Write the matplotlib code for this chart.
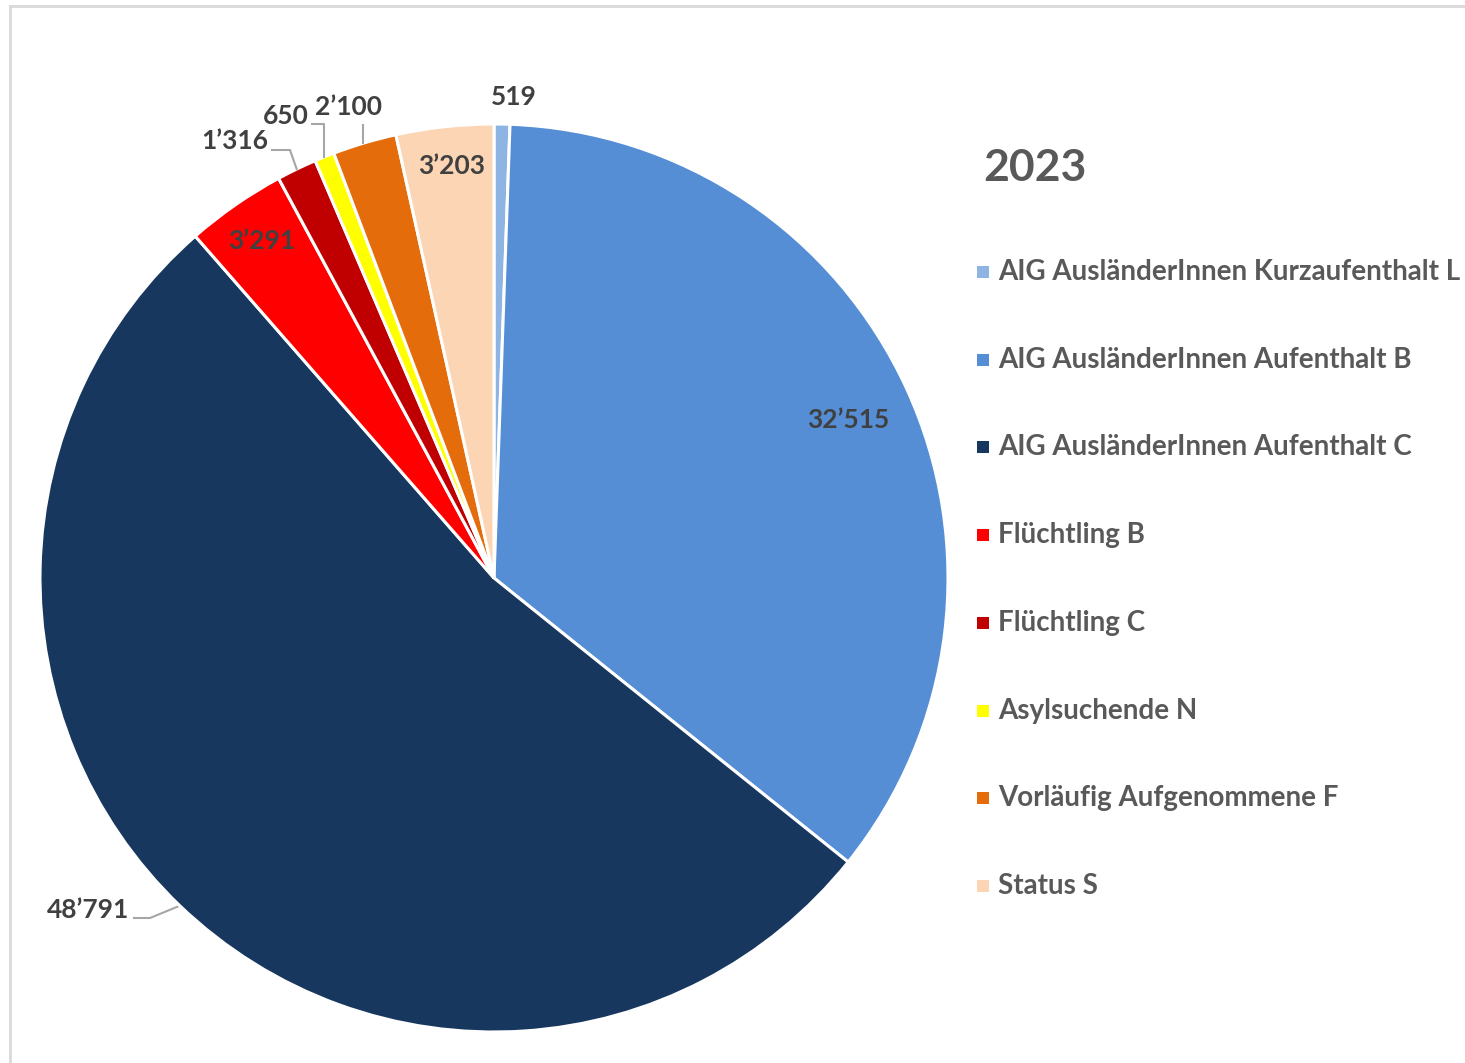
import matplotlib
matplotlib.use("Agg")
import matplotlib.pyplot as plt
from matplotlib.patches import Rectangle
from matplotlib.lines import Line2D
import numpy as np

categories = [
    "AIG AusländerInnen Kurzaufenthalt L",
    "AIG AusländerInnen Aufenthalt B",
    "AIG AusländerInnen Aufenthalt C",
    "Flüchtling B",
    "Flüchtling C",
    "Asylsuchende N",
    "Vorläufig Aufgenommene F",
    "Status S",
]
values = [519, 32515, 48791, 3291, 1316, 650, 2100, 3203]
colors = ["#8EB4E3", "#558ED5", "#17375E", "#FF0000", "#C00000", "#FFFF00", "#E46C0A", "#FCD5B5"]
title = "2023"

W, H = 1465, 1063
CX, CY, R = 494, 578, 454

fig = plt.figure(figsize=(W / 100, H / 100), dpi=100)
ax = fig.add_axes([0, 0, 1, 1])

# frame lines
fig.add_artist(Line2D([10 / W, 10 / W], [0, 1 - 6 / H], transform=fig.transFigure, color="#D9D9D9", lw=2))
fig.add_artist(Line2D([10 / W, 1], [1 - 6 / H, 1 - 6 / H], transform=fig.transFigure, color="#D9D9D9", lw=2))

wedges, _ = ax.pie(values, colors=colors, startangle=90, counterclock=False, radius=1.0,
                   center=(0, 0), frame=True,
                   wedgeprops=dict(edgecolor="white", linewidth=2.2))
ax.set_xlim(-CX / R, (W - CX) / R)
ax.set_ylim(-(H - CY) / R, CY / R)
ax.set_aspect("auto")
ax.axis("off")

FONT = "Lato"
LBL = "#404040"

def fmt(v):
    return f"{v:,}".replace(",", "\u2019")

def px(x, y):
    return ((x - CX) / R, (CY - y) / R)

# label text positions (layout)
label_pos = [px(514, 97), px(848, 420), px(88, 910), px(262, 241),
             px(235, 141), px(286, 116), px(349, 107), px(452, 166)]
for i, (w, v) in enumerate(zip(wedges, values)):
    x, y = label_pos[i]
    ax.text(x, y, fmt(v), ha="center", va="center", fontsize=19, fontweight="bold",
            color=LBL, family=FONT)

def mid_edge(w, r=1.0):
    a = np.deg2rad((w.theta1 + w.theta2) / 2)
    return r * np.cos(a), r * np.sin(a)

LC = "#A6A6A6"
# 48'791 leader
ex, ey = mid_edge(wedges[2], 1.0)
a, b = px(134, 918), px(150, 918)
ax.plot([a[0], b[0], ex], [a[1], b[1], ey], color=LC, lw=1.5, zorder=0)
# 1'316 leader
ex, ey = mid_edge(wedges[4], 1.0)
a, b = px(272, 150), px(290, 150)
ax.plot([a[0], b[0], ex], [a[1], b[1], ey], color=LC, lw=1.5)
# 650 leader
ex, ey = mid_edge(wedges[5], 1.0)
a, b = px(312, 124), px(324, 124)
ax.plot([a[0], b[0], b[0]], [a[1], b[1], ey], color=LC, lw=1.5)
# 2'100 leader
ex, ey = mid_edge(wedges[6], 1.0)
a = px(363, 125)
ax.plot([a[0], a[0]], [a[1], ey], color=LC, lw=1.5)

# legend title
fig.text(983 / W, 1 - 168 / H, title, ha="left", va="center", fontsize=32, fontweight="bold",
         color="#595959", family=FONT)

# legend entries
y0, dy = 272, 87.7
for i, (lab, c) in enumerate(zip(categories, colors)):
    yy = y0 + i * dy
    fig.add_artist(Rectangle((977 / W, 1 - (yy + 6) / H), 12 / W, 12 / H,
                             transform=fig.transFigure, facecolor=c, edgecolor="none"))
    fig.text(998 / W, 1 - yy / H, lab, ha="left", va="center", fontsize=20, fontweight="bold",
             color="#595959", family=FONT)

fig.savefig("out.png", dpi=100, facecolor="white")
